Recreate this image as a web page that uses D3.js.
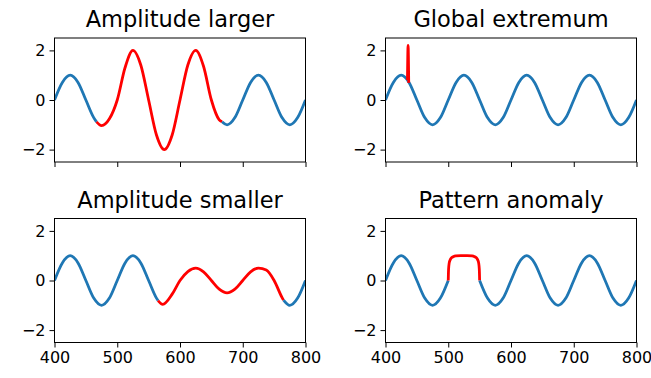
<!DOCTYPE html>
<html>
<head>
<meta charset="utf-8">
<script src="https://cdn.jsdelivr.net/npm/d3@7"></script>
<style>
  body { margin: 0; background: #fff; }
  text { font-family: "DejaVu Sans", sans-serif; fill: #000; }
</style>
</head>
<body>
<div id="chart"></div>
<script>
// sample positions used by the plain sine stretches
var sineX = [400, 412.5, 425, 437.5, 450, 462.5, 475, 487.5, 500, 512.5, 525, 537.5, 550, 562.5, 575, 587.5,
             600, 612.5, 625, 637.5, 650, 662.5, 675, 687.5, 700, 712.5, 725, 737.5, 750, 762.5, 775, 787.5, 800];
var sineY = [0, 0.71, 1, 0.71, 0, -0.71, -1, -0.71, 0, 0.71, 1, 0.71, 0, -0.71, -1, -0.71,
             0, 0.71, 1, 0.71, 0, -0.71, -1, -0.71, 0, 0.71, 1, 0.71, 0, -0.71, -1, -0.71, 0];

// Amplitude larger
var largerBlue1X = [400, 412.5, 425, 437.5, 450, 462.5, 467];
var largerBlue1Y = [0, 0.71, 1, 0.71, 0, -0.71, -0.88];
var largerRedX = [467, 475, 487.5, 500, 512.5, 525, 537.5, 550, 562.5, 575, 587.5, 600, 612.5, 625, 637.5, 650, 662.5, 667];
var largerRedY = [-0.88, -1.03, -0.76, 0, 1.31, 2.0, 1.41, 0, -1.41, -2.0, -1.41, 0, 1.41, 2.0, 1.36, 0, -0.8, -0.88];
var largerBlue2X = [667, 675, 687.5, 700, 712.5, 725, 737.5, 750, 762.5, 775, 787.5, 800];
var largerBlue2Y = [-0.88, -1, -0.71, 0, 0.71, 1, 0.71, 0, -0.71, -1, -0.71, 0];

// Global extremum
var spikeX = [435, 436, 437];
var spikeY = [0.81, 2.2, 0.69];

// Amplitude smaller
var smallerBlue1X = [400, 412.5, 425, 437.5, 450, 462.5, 475, 487.5, 500, 512.5, 525, 537.5, 550, 562.5, 565];
var smallerBlue1Y = [0, 0.71, 1, 0.71, 0, -0.71, -1, -0.71, 0, 0.71, 1, 0.71, 0, -0.71, -0.81];
var smallerRedX = [565, 572.5, 587.5, 600, 612.5, 625, 637.5, 650, 662.5, 675, 687.5, 700, 712.5, 725, 737.5, 750, 762.5, 765];
var smallerRedY = [-0.81, -0.96, -0.55, 0, 0.36, 0.5, 0.35, 0, -0.35, -0.5, -0.35, 0, 0.35, 0.5, 0.42, 0, -0.68, -0.79];
var smallerBlue2X = [765, 775, 787.5, 800];
var smallerBlue2Y = [-0.79, -1, -0.71, 0];

// Pattern anomaly
var patternBlue1X = [400, 412.5, 425, 437.5, 450, 462.5, 475, 487.5, 500];
var patternBlue1Y = [0, 0.71, 1, 0.71, 0, -0.71, -1, -0.71, 0];
var patternRedX = [500, 500.5, 501.5, 503, 505, 508, 512, 520, 530, 538, 542, 545, 547, 548.5, 549.5, 550];
var patternRedY = [0, 0.45, 0.7, 0.83, 0.91, 0.96, 0.99, 1.0, 1.0, 0.99, 0.96, 0.91, 0.83, 0.7, 0.45, 0];
var patternBlue2X = [550, 562.5, 575, 587.5, 600, 612.5, 625, 637.5, 650, 662.5, 675, 687.5, 700, 712.5, 725, 737.5, 750, 762.5, 775, 787.5, 800];
var patternBlue2Y = [0, -0.71, -1, -0.71, 0, 0.71, 1, 0.71, 0, -0.71, -1, -0.71, 0, 0.71, 1, 0.71, 0, -0.71, -1, -0.71, 0];

var xTicks = [400, 500, 600, 700, 800];
var yTicks = [-2, 0, 2];

var BLUE = "#1f77b4", RED = "#ff0000";

function pts(xs, ys) { return xs.map(function(x, i) { return [x, ys[i]]; }); }

var panels = [
  { title: "Amplitude larger", left: 54.5, top: 38, labels: false,
    segs: [[largerBlue1X, largerBlue1Y, BLUE], [largerRedX, largerRedY, RED], [largerBlue2X, largerBlue2Y, BLUE]] },
  { title: "Global extremum", left: 385.5, top: 38, labels: false,
    segs: [[sineX, sineY, BLUE], [spikeX, spikeY, RED]] },
  { title: "Amplitude smaller", left: 54.5, top: 218.5, labels: true,
    segs: [[smallerBlue1X, smallerBlue1Y, BLUE], [smallerRedX, smallerRedY, RED], [smallerBlue2X, smallerBlue2Y, BLUE]] },
  { title: "Pattern anomaly", left: 385.5, top: 218.5, labels: true,
    segs: [[patternBlue1X, patternBlue1Y, BLUE], [patternRedX, patternRedY, RED], [patternBlue2X, patternBlue2Y, BLUE]] }
];

var pw = 251, ph = 124;

var svg = d3.select("#chart").append("svg")
  .attr("width", 651)
  .attr("height", 378);

panels.forEach(function(p) {
  var g = svg.append("g").attr("transform", "translate(" + p.left + "," + p.top + ")");

  var x = d3.scaleLinear().domain([400, 800]).range([0, pw]);
  var y = d3.scaleLinear().domain([-2.5, 2.5]).range([ph, 0]);

  var clipId = "clip" + Math.round(p.left) + Math.round(p.top);
  g.append("clipPath").attr("id", clipId)
    .append("rect").attr("width", pw).attr("height", ph);

  var line = d3.line()
    .x(function(d) { return x(d[0]); })
    .y(function(d) { return y(d[1]); })
    .curve(d3.curveMonotoneX);

  var lines = g.append("g").attr("clip-path", "url(#" + clipId + ")");
  p.segs.forEach(function(s) {
    lines.append("path")
      .attr("d", line(pts(s[0], s[1])))
      .attr("fill", "none")
      .attr("stroke", s[2])
      .attr("stroke-width", 2.8)
      .attr("stroke-linejoin", "round")
      .attr("stroke-linecap", "butt");
  });

  // axes
  var xAxis = d3.axisBottom(x).tickValues(xTicks).tickSize(5).tickPadding(4)
    .tickFormat(p.labels ? d3.format("d") : "");
  var yAxis = d3.axisLeft(y).tickValues(yTicks).tickSize(5).tickPadding(4)
    .tickFormat(function(d) { return d < 0 ? "\u2212" + Math.abs(d) : d; });

  var gx = g.append("g").attr("transform", "translate(0," + ph + ")").call(xAxis);
  var gy = g.append("g").call(yAxis);
  [gx, gy].forEach(function(a) {
    a.select(".domain").remove();
    a.selectAll("line").attr("stroke", "#000").attr("stroke-width", 1);
    a.selectAll("text").attr("font-size", 16).attr("font-family", "DejaVu Sans").attr("fill", "#000");
  });

  // frame
  g.append("rect")
    .attr("width", pw).attr("height", ph)
    .attr("fill", "none").attr("stroke", "#000").attr("stroke-width", 1);

  g.append("text")
    .attr("x", pw / 2)
    .attr("y", -11)
    .attr("text-anchor", "middle")
    .attr("font-size", 22.5)
    .text(p.title);
});
</script>
</body>
</html>
